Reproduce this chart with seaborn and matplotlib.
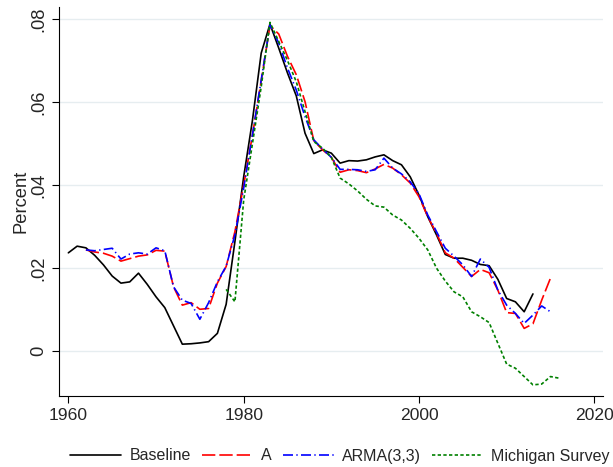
import numpy as np
import pandas as pd
import matplotlib
matplotlib.use("Agg")
import matplotlib.pyplot as plt
import seaborn as sns

# expected inflation series
years_baseline = list(range(1960, 2014))
baseline = [0.0237, 0.0253, 0.0249, 0.0231, 0.0208, 0.0181, 0.0164, 0.0167, 0.0188, 0.0161,
            0.0131, 0.0105, 0.0061, 0.0017, 0.0018, 0.0020, 0.0023, 0.0043, 0.0113, 0.0264,
            0.0420, 0.0556, 0.0718, 0.0788, 0.0730, 0.0670, 0.0615, 0.0525, 0.0476, 0.0485,
            0.0477, 0.0453, 0.0459, 0.0458, 0.0461, 0.0468, 0.0473, 0.0459, 0.0449, 0.0420,
            0.0376, 0.0324, 0.0280, 0.0233, 0.0224, 0.0224, 0.0219, 0.0209, 0.0206, 0.0173,
            0.0127, 0.0119, 0.0095, 0.0138]

years_a = list(range(1962, 2016))
series_a = [0.0244, 0.0239, 0.0236, 0.0229, 0.0217, 0.0223, 0.0229, 0.0232, 0.0243, 0.0241,
            0.0155, 0.0111, 0.0117, 0.0101, 0.0103, 0.0164, 0.0204, 0.0288, 0.0400, 0.0520,
            0.0651, 0.0784, 0.0764, 0.0710, 0.0666, 0.0601, 0.0507, 0.0485, 0.0467, 0.0431,
            0.0437, 0.0435, 0.0430, 0.0439, 0.0450, 0.0441, 0.0425, 0.0405, 0.0372, 0.0324,
            0.0284, 0.0237, 0.0224, 0.0202, 0.0180, 0.0197, 0.0189, 0.0147, 0.0093, 0.0091,
            0.0055, 0.0066, 0.0123, 0.0176]

years_arma = list(range(1962, 2016))
arma = [0.0244, 0.0242, 0.0245, 0.0248, 0.0222, 0.0234, 0.0237, 0.0234, 0.0249, 0.0242,
        0.0155, 0.0123, 0.0115, 0.0077, 0.0117, 0.0167, 0.0205, 0.0280, 0.0393, 0.0521,
        0.0653, 0.0786, 0.0742, 0.0682, 0.0629, 0.0565, 0.0509, 0.0487, 0.0467, 0.0438,
        0.0438, 0.0437, 0.0433, 0.0437, 0.0465, 0.0441, 0.0427, 0.0408, 0.0379, 0.0328,
        0.0288, 0.0248, 0.0229, 0.0208, 0.0180, 0.0222, 0.0202, 0.0147, 0.0111, 0.0091,
        0.0067, 0.0087, 0.0109, 0.0095]

years_mich = list(range(1978, 2017))
michigan = [0.0149, 0.0119, 0.0364, 0.0500, 0.0637, 0.0792, 0.0746, 0.0700, 0.0649, 0.0577,
            0.0505, 0.0489, 0.0467, 0.0417, 0.0403, 0.0386, 0.0366, 0.0350, 0.0347, 0.0328,
            0.0316, 0.0296, 0.0272, 0.0244, 0.0200, 0.0169, 0.0143, 0.0131, 0.0095, 0.0083,
            0.0069, 0.0019, -0.0031, -0.0041, -0.0061, -0.0081, -0.0079, -0.0061, -0.0065]

labels = ["Baseline", "A", "ARMA(3,3)", "Michigan Survey"]
colors = ["black", "#ff0000", "#0000ff", "#008000"]

df = pd.concat([
    pd.DataFrame({"year": years_baseline, "value": baseline, "series": labels[0]}),
    pd.DataFrame({"year": years_a, "value": series_a, "series": labels[1]}),
    pd.DataFrame({"year": years_arma, "value": arma, "series": labels[2]}),
    pd.DataFrame({"year": years_mich, "value": michigan, "series": labels[3]}),
], ignore_index=True)

sns.set_theme(style="white")
plt.rcParams["font.family"] = ["Liberation Sans", "DejaVu Sans"]

fig = plt.figure(figsize=(6.13, 4.67), dpi=100)
ax = fig.add_axes([0.0958, 0.151, 0.888, 0.834])

dashes = {
    "Baseline": "",
    "A": (8, 2.4),
    "ARMA(3,3)": (6, 2, 0.8, 2),
    "Michigan Survey": (2, 1.4),
}
sns.lineplot(data=df, x="year", y="value", hue="series", style="series",
             hue_order=labels, style_order=labels, palette=dict(zip(labels, colors)),
             dashes=dashes, linewidth=1.2, ax=ax, legend=True)

ax.set_xlim(1958.9, 2021.0)
ax.set_ylim(-0.0109, 0.0829)
ax.set_xticks([1960, 1980, 2000, 2020])
ax.set_yticks([0, 0.02, 0.04, 0.06, 0.08])
ax.set_yticklabels(["0", ".02", ".04", ".06", ".08"], rotation=90, va="center")
ax.tick_params(axis="both", direction="out", length=5, width=0.8, color="black",
               left=True, bottom=True, pad=3)
ax.tick_params(axis="x", labelsize=12.6)
ax.tick_params(axis="y", labelsize=13.2)
ax.grid(axis="y", color="#e6edf0", linewidth=1.0)
ax.set_axisbelow(True)
for side in ["top", "right"]:
    ax.spines[side].set_visible(False)
for side in ["left", "bottom"]:
    ax.spines[side].set_color("black")
    ax.spines[side].set_linewidth(0.8)

ax.set_xlabel("")
ax.set_ylabel("Percent", fontsize=13.2, labelpad=1)

handles, lbls = ax.get_legend_handles_labels()
ax.get_legend().remove()
fig.legend(handles, lbls, loc="center", bbox_to_anchor=(340 / 613, 1 - 456 / 467),
           ncol=4, frameon=False, fontsize=11.5, handlelength=3.2, handletextpad=0.5,
           columnspacing=0.7)

fig.savefig("out.png", dpi=100)
